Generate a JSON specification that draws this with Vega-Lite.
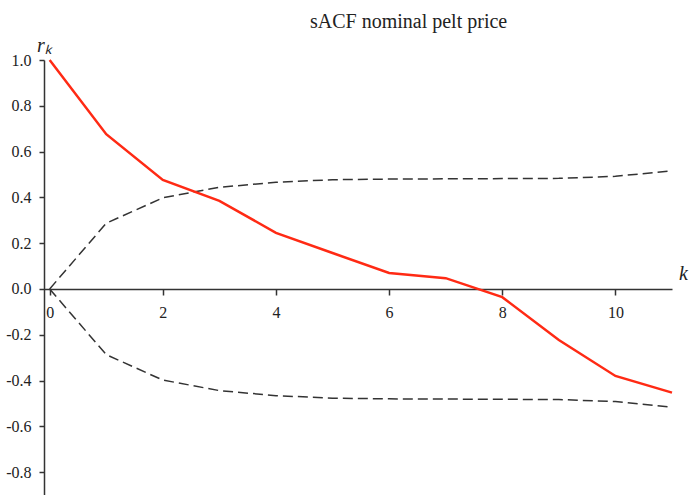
{
  "$schema": "https://vega.github.io/schema/vega-lite/v6.json",
  "width": 628,
  "height": 435,
  "autosize": {"type": "none"},
  "padding": {"left": 44, "top": 60, "right": 17, "bottom": 0},
  "background": "white",
  "config": {"view": {"stroke": null}, "font": "Liberation Serif"},
  "title": {
    "text": "sACF nominal pelt price",
    "anchor": "start",
    "frame": "group",
    "dx": 266,
    "offset": 3,
    "font": "Liberation Serif",
    "fontSize": 20,
    "fontWeight": "normal",
    "color": "#222222"
  },
  "data": {
    "values": [
      {"k": 0, "series": "sACF", "r": 1.0},
      {"k": 1, "series": "sACF", "r": 0.676},
      {"k": 2, "series": "sACF", "r": 0.476},
      {"k": 3, "series": "sACF", "r": 0.385},
      {"k": 4, "series": "sACF", "r": 0.245},
      {"k": 5, "series": "sACF", "r": 0.157},
      {"k": 6, "series": "sACF", "r": 0.07},
      {"k": 7, "series": "sACF", "r": 0.047},
      {"k": 8, "series": "sACF", "r": -0.036},
      {"k": 9, "series": "sACF", "r": -0.223},
      {"k": 10, "series": "sACF", "r": -0.38},
      {"k": 11, "series": "sACF", "r": -0.453},
      {"k": 0, "series": "upper", "r": 0.0},
      {"k": 1, "series": "upper", "r": 0.287},
      {"k": 2, "series": "upper", "r": 0.398},
      {"k": 3, "series": "upper", "r": 0.444},
      {"k": 4, "series": "upper", "r": 0.466},
      {"k": 5, "series": "upper", "r": 0.477},
      {"k": 6, "series": "upper", "r": 0.48},
      {"k": 7, "series": "upper", "r": 0.481},
      {"k": 8, "series": "upper", "r": 0.482},
      {"k": 9, "series": "upper", "r": 0.483},
      {"k": 10, "series": "upper", "r": 0.492},
      {"k": 11, "series": "upper", "r": 0.516},
      {"k": 0, "series": "lower", "r": 0.0},
      {"k": 1, "series": "lower", "r": -0.287},
      {"k": 2, "series": "lower", "r": -0.398},
      {"k": 3, "series": "lower", "r": -0.444},
      {"k": 4, "series": "lower", "r": -0.466},
      {"k": 5, "series": "lower", "r": -0.477},
      {"k": 6, "series": "lower", "r": -0.48},
      {"k": 7, "series": "lower", "r": -0.481},
      {"k": 8, "series": "lower", "r": -0.482},
      {"k": 9, "series": "lower", "r": -0.483},
      {"k": 10, "series": "lower", "r": -0.492},
      {"k": 11, "series": "lower", "r": -0.516}
    ]
  },
  "encoding": {
    "x": {
      "field": "k",
      "type": "quantitative",
      "scale": {"domain": [-0.1, 11], "nice": false, "zero": false},
      "axis": {
        "values": [0, 2, 4, 6, 8, 10],
        "format": "d",
        "offset": -206,
        "grid": false,
        "domainColor": "#333333",
        "domainWidth": 1.5,
        "tickColor": "#333333",
        "tickWidth": 1.5,
        "tickSize": 6,
        "labelPadding": 9,
        "labelFlush": false,
        "labelOverlap": false,
        "labelFont": "Liberation Serif",
        "labelFontSize": 16,
        "labelColor": "#222222",
        "title": "k",
        "titleX": 639,
        "titleY": -10,
        "titleAlign": "center",
        "titleBaseline": "alphabetic",
        "titleFont": "Liberation Serif",
        "titleFontStyle": "italic",
        "titleFontWeight": "normal",
        "titleFontSize": 20,
        "titleColor": "#222222"
      }
    },
    "y": {
      "field": "r",
      "type": "quantitative",
      "scale": {"domain": [-0.9, 1.0], "nice": false, "zero": false},
      "axis": {
        "values": [-0.8, -0.6, -0.4, -0.2, 0, 0.2, 0.4, 0.6, 0.8, 1.0],
        "labelExpr": "replace(format(datum.value, '.1f'), '\u2212', '-')",
        "grid": false,
        "domainColor": "#333333",
        "domainWidth": 1.5,
        "tickColor": "#333333",
        "tickWidth": 1.5,
        "tickSize": 5,
        "labelPadding": 8,
        "labelFlush": false,
        "labelOverlap": false,
        "labelFont": "Liberation Serif",
        "labelFontSize": 16,
        "labelColor": "#222222",
        "title": "rₖ",
        "titleAngle": 0,
        "titleX": 0,
        "titleY": -9,
        "titleAlign": "center",
        "titleBaseline": "alphabetic",
        "titleFont": "Liberation Serif",
        "titleFontStyle": "italic",
        "titleFontWeight": "normal",
        "titleFontSize": 20,
        "titleColor": "#222222"
      }
    }
  },
  "layer": [
    {
      "transform": [{"filter": "datum.series !== 'sACF'"}],
      "mark": {"type": "line", "color": "#333333", "strokeWidth": 1.5, "strokeDash": [10, 5]},
      "encoding": {"detail": {"field": "series", "type": "nominal"}}
    },
    {
      "transform": [{"filter": "datum.series === 'sACF'"}],
      "mark": {"type": "line", "color": "#ff2a14", "strokeWidth": 2.5},
      "encoding": {}
    }
  ]
}
